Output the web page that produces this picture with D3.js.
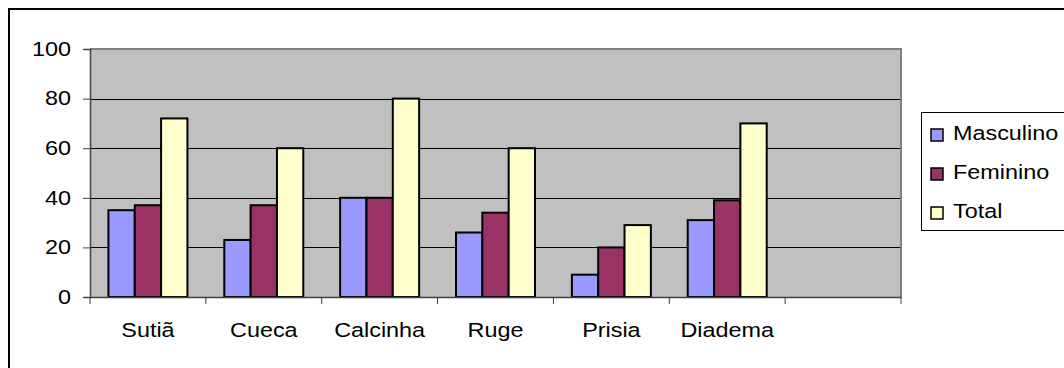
<!DOCTYPE html>
<html>
<head>
<meta charset="utf-8">
<script src="https://cdn.jsdelivr.net/npm/d3@7"></script>
<style>
  html, body { margin: 0; padding: 0; background: #fff; }
  svg { display: block; }
  text { font-family: "Liberation Sans", Arial, sans-serif; fill: #000; }
</style>
</head>
<body>
<svg id="chart" width="1064" height="368"></svg>
<script>
// Categories (the last slot on the axis is left empty)
const categories = ["Sutiã", "Cueca", "Calcinha", "Ruge", "Prisia", "Diadema"];
const emptySlots = 1;

// Series
const seriesNames = ["Masculino", "Feminino", "Total"];
const masculino = [35, 23, 40, 26, 9, 31];
const feminino  = [37, 37, 40, 34, 20, 39];
const total     = [72, 60, 80, 60, 29, 70];
const seriesValues = [masculino, feminino, total];
const seriesColors = ["#9999FF", "#993366", "#FFFFCC"];

// Value axis ticks
const yTicks = [0, 20, 40, 60, 80, 100];

const FONT_SIZE = 19.5;
const STRETCH = 1.2;   // horizontal stretch of the lettering

const svg = d3.select("#chart");

// Chart frame
svg.append("rect")
  .attr("x", 9).attr("y", 9)
  .attr("width", 1200).attr("height", 500)
  .attr("fill", "#fff").attr("stroke", "#000").attr("stroke-width", 2);

const plot = { left: 90, right: 901, top: 49, bottom: 297 };

const slots = categories.concat(d3.range(emptySlots).map(i => "__empty" + i));
const x = d3.scaleBand().domain(slots).range([plot.left, plot.right]).padding(0);
const xs = d3.scaleBand().domain(seriesNames).range([0, x.bandwidth()])
  .paddingInner(0).paddingOuter(0.7);
const y = d3.scaleLinear().domain([0, 100]).range([plot.bottom, plot.top]);

// Plot area
svg.append("rect")
  .attr("x", plot.left).attr("y", plot.top)
  .attr("width", plot.right - plot.left).attr("height", plot.bottom - plot.top)
  .attr("fill", "#C0C0C0");

// Gridlines
svg.append("g").selectAll("line")
  .data(yTicks.filter(t => t > 0 && t < 100))
  .join("line")
  .attr("x1", plot.left).attr("x2", plot.right)
  .attr("y1", d => Math.round(y(d)) + 0.5).attr("y2", d => Math.round(y(d)) + 0.5)
  .attr("stroke", "#000").attr("stroke-width", 1);

// Plot border (top / right)
svg.append("path")
  .attr("d", `M${plot.left},${plot.top} H${plot.right} V${plot.bottom}`)
  .attr("fill", "none").attr("stroke", "#808080").attr("stroke-width", 2);

// Bars
const rows = categories.map((c, i) => ({
  cat: c,
  vals: seriesNames.map((s, j) => ({ s, v: seriesValues[j][i], color: seriesColors[j] }))
}));

svg.append("g").selectAll("g")
  .data(rows)
  .join("g")
  .attr("transform", d => `translate(${x(d.cat)},0)`)
  .selectAll("rect")
  .data(d => d.vals)
  .join("rect")
  .attr("x", d => xs(d.s))
  .attr("y", d => y(d.v))
  .attr("width", xs.bandwidth())
  .attr("height", d => y(0) - y(d.v))
  .attr("fill", d => d.color)
  .attr("stroke", "#000").attr("stroke-width", 2);

// Y axis
const yAxis = svg.append("g")
  .attr("transform", `translate(${plot.left},0)`)
  .call(d3.axisLeft(y).tickValues(yTicks).tickSize(7).tickFormat(d3.format("d")));
yAxis.select(".domain").attr("stroke", "#404040").attr("stroke-width", 1.5);
yAxis.selectAll(".tick line").attr("stroke", "#404040");
yAxis.selectAll(".tick text")
  .attr("x", null).attr("dy", null)
  .attr("font-size", FONT_SIZE)
  .attr("text-anchor", "end")
  .attr("dominant-baseline", "central")
  .attr("transform", `translate(-19,0) scale(${STRETCH},1)`)
  .style("font-family", "'Liberation Sans', Arial, sans-serif");

// X axis
const xAxis = svg.append("g")
  .attr("transform", `translate(0,${plot.bottom})`)
  .call(d3.axisBottom(x).tickSize(0).tickFormat(d => d.startsWith("__empty") ? "" : d));
xAxis.select(".domain").attr("stroke", "#404040").attr("stroke-width", 1.5);
xAxis.selectAll(".tick text")
  .attr("y", null).attr("dy", null)
  .attr("font-size", FONT_SIZE)
  .attr("transform", `translate(0,40) scale(${STRETCH},1)`)
  .style("font-family", "'Liberation Sans', Arial, sans-serif");

// Category separators
svg.append("g").selectAll("line")
  .data(d3.range(slots.length + 1))
  .join("line")
  .attr("x1", i => plot.left + i * x.step()).attr("x2", i => plot.left + i * x.step())
  .attr("y1", plot.bottom).attr("y2", plot.bottom + 7)
  .attr("stroke", "#404040").attr("stroke-width", 1);

// Legend
const legend = svg.append("g");
legend.append("rect")
  .attr("x", 921.5).attr("y", 112.5)
  .attr("width", 300).attr("height", 118)
  .attr("fill", "#fff").attr("stroke", "#000").attr("stroke-width", 1);

const items = legend.selectAll("g.item")
  .data(seriesNames.map((s, i) => ({ s, color: seriesColors[i] })))
  .join("g")
  .attr("class", "item")
  .attr("transform", (d, i) => `translate(931,${140 + i * 39})`);
items.append("rect")
  .attr("x", 0).attr("y", -11)
  .attr("width", 12).attr("height", 12)
  .attr("fill", d => d.color)
  .attr("stroke", "#000").attr("stroke-width", 1.5);
items.append("text")
  .attr("font-size", FONT_SIZE)
  .attr("transform", `translate(22,0) scale(${STRETCH},1)`)
  .text(d => d.s);
</script>
</body>
</html>
